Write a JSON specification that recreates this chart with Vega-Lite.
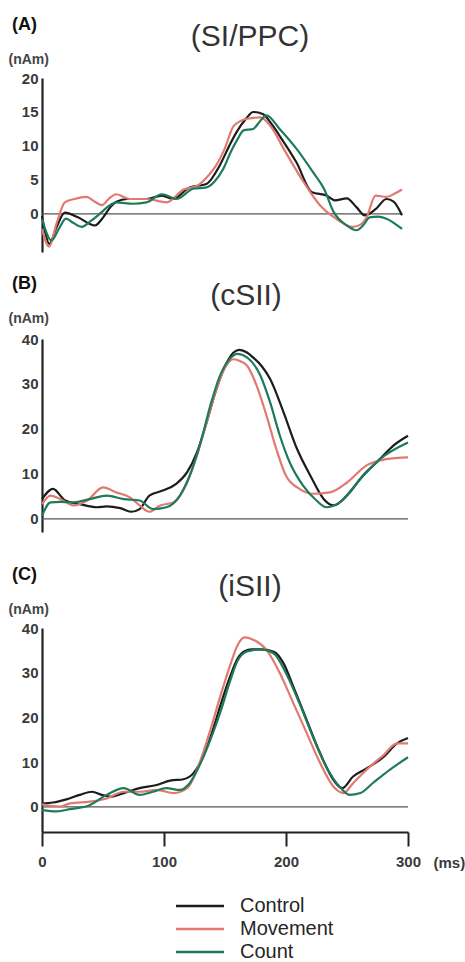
{
  "$schema": "https://vega.github.io/schema/vega-lite/v6.json",
  "background": "white",
  "padding": {"left": 8, "top": 16, "right": 0, "bottom": 0},
  "config": {
    "font": "Liberation Sans",
    "view": {"stroke": null},
    "axis": {"domainColor": "#222", "domainWidth": 2.2, "ticks": false, "grid": false, "labelFont": "Liberation Sans", "labelFontSize": 15, "labelFontWeight": "bold", "labelColor": "#3a3a3a", "labelPadding": 4, "titleFont": "Liberation Sans"},
    "title": {"font": "Liberation Sans"}
  },
  "datasets": {
    "A": [
      {"c":"Control","t":0,"v":-0.3},{"c":"Control","t":3,"v":-3.0},{"c":"Control","t":6,"v":-4.4},{"c":"Control","t":12,"v":-2.0},{"c":"Control","t":19,"v":0.2},{"c":"Control","t":30,"v":-0.5},{"c":"Control","t":44,"v":-1.7},{"c":"Control","t":51,"v":-0.5},{"c":"Control","t":57,"v":1.0},{"c":"Control","t":62,"v":1.8},{"c":"Control","t":71,"v":2.2},{"c":"Control","t":87,"v":2.2},{"c":"Control","t":100,"v":2.7},{"c":"Control","t":109,"v":2.2},{"c":"Control","t":123,"v":3.9},{"c":"Control","t":137,"v":4.4},{"c":"Control","t":148,"v":7.1},{"c":"Control","t":156,"v":10.0},{"c":"Control","t":162,"v":12.0},{"c":"Control","t":170,"v":14.0},{"c":"Control","t":176,"v":15.0},{"c":"Control","t":184,"v":14.7},{"c":"Control","t":191,"v":13.3},{"c":"Control","t":198,"v":11.5},{"c":"Control","t":212,"v":7.6},{"c":"Control","t":225,"v":3.2},{"c":"Control","t":237,"v":2.7},{"c":"Control","t":244,"v":2.0},{"c":"Control","t":254,"v":2.3},{"c":"Control","t":262,"v":1.0},{"c":"Control","t":269,"v":-0.2},{"c":"Control","t":278,"v":0.7},{"c":"Control","t":287,"v":2.2},{"c":"Control","t":293,"v":1.8},{"c":"Control","t":300,"v":-0.2},
      {"c":"Movement","t":0,"v":-2.2},{"c":"Movement","t":6,"v":-4.8},{"c":"Movement","t":12,"v":-1.5},{"c":"Movement","t":19,"v":1.7},{"c":"Movement","t":27,"v":2.2},{"c":"Movement","t":37,"v":2.5},{"c":"Movement","t":44,"v":1.8},{"c":"Movement","t":50,"v":1.3},{"c":"Movement","t":56,"v":2.3},{"c":"Movement","t":62,"v":2.9},{"c":"Movement","t":68,"v":2.5},{"c":"Movement","t":73,"v":2.2},{"c":"Movement","t":87,"v":2.2},{"c":"Movement","t":104,"v":1.7},{"c":"Movement","t":118,"v":3.6},{"c":"Movement","t":129,"v":4.1},{"c":"Movement","t":138,"v":5.5},{"c":"Movement","t":145,"v":7.1},{"c":"Movement","t":152,"v":9.5},{"c":"Movement","t":160,"v":13.0},{"c":"Movement","t":171,"v":14.0},{"c":"Movement","t":182,"v":14.2},{"c":"Movement","t":190,"v":13.0},{"c":"Movement","t":203,"v":9.1},{"c":"Movement","t":218,"v":4.7},{"c":"Movement","t":232,"v":1.2},{"c":"Movement","t":245,"v":-0.7},{"c":"Movement","t":259,"v":-1.9},{"c":"Movement","t":266,"v":-1.5},{"c":"Movement","t":270,"v":-0.7},{"c":"Movement","t":278,"v":2.7},{"c":"Movement","t":287,"v":2.5},{"c":"Movement","t":294,"v":3.0},{"c":"Movement","t":300,"v":3.6},
      {"c":"Count","t":0,"v":-0.7},{"c":"Count","t":8,"v":-3.9},{"c":"Count","t":14,"v":-2.2},{"c":"Count","t":20,"v":-0.7},{"c":"Count","t":26,"v":-1.3},{"c":"Count","t":33,"v":-1.9},{"c":"Count","t":41,"v":-1.0},{"c":"Count","t":48,"v":0.0},{"c":"Count","t":56,"v":1.2},{"c":"Count","t":62,"v":1.7},{"c":"Count","t":76,"v":1.5},{"c":"Count","t":87,"v":1.7},{"c":"Count","t":100,"v":2.9},{"c":"Count","t":112,"v":2.2},{"c":"Count","t":126,"v":3.7},{"c":"Count","t":137,"v":3.9},{"c":"Count","t":144,"v":4.8},{"c":"Count","t":151,"v":6.6},{"c":"Count","t":157,"v":9.0},{"c":"Count","t":163,"v":11.0},{"c":"Count","t":168,"v":12.3},{"c":"Count","t":176,"v":12.5},{"c":"Count","t":181,"v":13.5},{"c":"Count","t":187,"v":14.5},{"c":"Count","t":198,"v":12.5},{"c":"Count","t":212,"v":9.6},{"c":"Count","t":226,"v":6.1},{"c":"Count","t":235,"v":3.7},{"c":"Count","t":243,"v":0.3},{"c":"Count","t":254,"v":-1.7},{"c":"Count","t":262,"v":-2.4},{"c":"Count","t":268,"v":-1.6},{"c":"Count","t":273,"v":-0.5},{"c":"Count","t":280,"v":-0.4},{"c":"Count","t":287,"v":-0.7},{"c":"Count","t":300,"v":-2.2}
    ],
    "B": [
      {"c":"Control","t":0,"v":4.4},{"c":"Control","t":9,"v":6.7},{"c":"Control","t":19,"v":4.1},{"c":"Control","t":31,"v":3.3},{"c":"Control","t":45,"v":2.6},{"c":"Control","t":53,"v":2.8},{"c":"Control","t":64,"v":2.4},{"c":"Control","t":73,"v":1.6},{"c":"Control","t":80,"v":2.2},{"c":"Control","t":88,"v":5.2},{"c":"Control","t":99,"v":6.3},{"c":"Control","t":110,"v":7.8},{"c":"Control","t":119,"v":10.4},{"c":"Control","t":127,"v":14.8},{"c":"Control","t":135,"v":21.5},{"c":"Control","t":143,"v":28.9},{"c":"Control","t":151,"v":34.5},{"c":"Control","t":157,"v":37.0},{"c":"Control","t":162,"v":37.6},{"c":"Control","t":168,"v":37.0},{"c":"Control","t":173,"v":35.9},{"c":"Control","t":180,"v":34.0},{"c":"Control","t":187,"v":31.1},{"c":"Control","t":198,"v":23.7},{"c":"Control","t":209,"v":15.6},{"c":"Control","t":220,"v":9.6},{"c":"Control","t":231,"v":4.4},{"c":"Control","t":239,"v":3.0},{"c":"Control","t":250,"v":5.2},{"c":"Control","t":263,"v":9.6},{"c":"Control","t":277,"v":13.3},{"c":"Control","t":288,"v":16.3},{"c":"Control","t":300,"v":18.5},
      {"c":"Movement","t":0,"v":3.3},{"c":"Movement","t":7,"v":5.2},{"c":"Movement","t":15,"v":4.4},{"c":"Movement","t":26,"v":3.0},{"c":"Movement","t":37,"v":4.1},{"c":"Movement","t":50,"v":7.0},{"c":"Movement","t":61,"v":5.9},{"c":"Movement","t":72,"v":4.8},{"c":"Movement","t":80,"v":3.0},{"c":"Movement","t":88,"v":1.6},{"c":"Movement","t":97,"v":3.0},{"c":"Movement","t":108,"v":3.7},{"c":"Movement","t":119,"v":8.1},{"c":"Movement","t":127,"v":14.1},{"c":"Movement","t":135,"v":21.5},{"c":"Movement","t":143,"v":28.9},{"c":"Movement","t":151,"v":34.1},{"c":"Movement","t":157,"v":35.5},{"c":"Movement","t":163,"v":35.0},{"c":"Movement","t":168,"v":34.1},{"c":"Movement","t":176,"v":29.6},{"c":"Movement","t":184,"v":23.0},{"c":"Movement","t":192,"v":15.6},{"c":"Movement","t":200,"v":9.6},{"c":"Movement","t":211,"v":6.7},{"c":"Movement","t":222,"v":5.6},{"c":"Movement","t":236,"v":5.9},{"c":"Movement","t":250,"v":8.1},{"c":"Movement","t":266,"v":11.9},{"c":"Movement","t":282,"v":13.3},{"c":"Movement","t":300,"v":13.7},
      {"c":"Count","t":0,"v":0.7},{"c":"Count","t":7,"v":3.7},{"c":"Count","t":15,"v":3.8},{"c":"Count","t":26,"v":3.7},{"c":"Count","t":39,"v":4.4},{"c":"Count","t":53,"v":5.2},{"c":"Count","t":67,"v":4.4},{"c":"Count","t":80,"v":4.1},{"c":"Count","t":91,"v":2.2},{"c":"Count","t":102,"v":2.6},{"c":"Count","t":113,"v":5.2},{"c":"Count","t":121,"v":9.6},{"c":"Count","t":130,"v":17.0},{"c":"Count","t":138,"v":25.2},{"c":"Count","t":146,"v":31.9},{"c":"Count","t":154,"v":35.6},{"c":"Count","t":160,"v":36.7},{"c":"Count","t":168,"v":35.9},{"c":"Count","t":179,"v":31.9},{"c":"Count","t":187,"v":25.9},{"c":"Count","t":195,"v":18.5},{"c":"Count","t":203,"v":12.6},{"c":"Count","t":214,"v":7.4},{"c":"Count","t":225,"v":4.1},{"c":"Count","t":233,"v":2.6},{"c":"Count","t":244,"v":3.7},{"c":"Count","t":261,"v":8.9},{"c":"Count","t":277,"v":13.3},{"c":"Count","t":300,"v":17.0}
    ],
    "C": [
      {"c":"Control","t":0,"v":0.8},{"c":"Control","t":9,"v":1.0},{"c":"Control","t":20,"v":1.7},{"c":"Control","t":31,"v":2.7},{"c":"Control","t":41,"v":3.4},{"c":"Control","t":49,"v":2.7},{"c":"Control","t":56,"v":2.3},{"c":"Control","t":67,"v":3.1},{"c":"Control","t":80,"v":4.2},{"c":"Control","t":94,"v":4.9},{"c":"Control","t":105,"v":5.9},{"c":"Control","t":116,"v":6.2},{"c":"Control","t":124,"v":7.5},{"c":"Control","t":132,"v":11.2},{"c":"Control","t":140,"v":17.2},{"c":"Control","t":146,"v":22.5},{"c":"Control","t":154,"v":29.0},{"c":"Control","t":160,"v":33.0},{"c":"Control","t":166,"v":34.8},{"c":"Control","t":172,"v":35.2},{"c":"Control","t":179,"v":35.2},{"c":"Control","t":190,"v":34.7},{"c":"Control","t":198,"v":32.1},{"c":"Control","t":206,"v":26.9},{"c":"Control","t":217,"v":19.4},{"c":"Control","t":228,"v":12.0},{"c":"Control","t":239,"v":6.0},{"c":"Control","t":246,"v":4.2},{"c":"Control","t":255,"v":6.8},{"c":"Control","t":266,"v":8.6},{"c":"Control","t":280,"v":11.2},{"c":"Control","t":291,"v":14.2},{"c":"Control","t":300,"v":15.4},
      {"c":"Movement","t":0,"v":0.6},{"c":"Movement","t":15,"v":0.1},{"c":"Movement","t":23,"v":0.8},{"c":"Movement","t":39,"v":1.2},{"c":"Movement","t":53,"v":1.9},{"c":"Movement","t":67,"v":3.4},{"c":"Movement","t":80,"v":3.4},{"c":"Movement","t":94,"v":3.8},{"c":"Movement","t":108,"v":3.1},{"c":"Movement","t":119,"v":4.2},{"c":"Movement","t":130,"v":10.5},{"c":"Movement","t":138,"v":17.2},{"c":"Movement","t":146,"v":24.6},{"c":"Movement","t":154,"v":31.5},{"c":"Movement","t":160,"v":36.0},{"c":"Movement","t":166,"v":37.9},{"c":"Movement","t":173,"v":37.4},{"c":"Movement","t":184,"v":35.1},{"c":"Movement","t":195,"v":29.9},{"c":"Movement","t":206,"v":23.2},{"c":"Movement","t":217,"v":16.5},{"c":"Movement","t":228,"v":9.8},{"c":"Movement","t":239,"v":4.5},{"c":"Movement","t":247,"v":3.1},{"c":"Movement","t":255,"v":5.3},{"c":"Movement","t":266,"v":8.3},{"c":"Movement","t":280,"v":11.6},{"c":"Movement","t":291,"v":14.2},{"c":"Movement","t":300,"v":14.2},
      {"c":"Count","t":0,"v":-0.7},{"c":"Count","t":12,"v":-1.0},{"c":"Count","t":23,"v":-0.5},{"c":"Count","t":39,"v":0.4},{"c":"Count","t":53,"v":2.7},{"c":"Count","t":67,"v":4.2},{"c":"Count","t":80,"v":2.7},{"c":"Count","t":91,"v":3.4},{"c":"Count","t":102,"v":4.2},{"c":"Count","t":113,"v":3.8},{"c":"Count","t":121,"v":5.3},{"c":"Count","t":130,"v":9.8},{"c":"Count","t":138,"v":15.0},{"c":"Count","t":146,"v":21.0},{"c":"Count","t":154,"v":28.0},{"c":"Count","t":160,"v":32.5},{"c":"Count","t":166,"v":34.5},{"c":"Count","t":172,"v":35.0},{"c":"Count","t":179,"v":35.2},{"c":"Count","t":190,"v":34.3},{"c":"Count","t":200,"v":29.9},{"c":"Count","t":211,"v":23.2},{"c":"Count","t":222,"v":15.7},{"c":"Count","t":233,"v":9.0},{"c":"Count","t":244,"v":4.5},{"c":"Count","t":252,"v":2.7},{"c":"Count","t":261,"v":3.1},{"c":"Count","t":271,"v":5.3},{"c":"Count","t":285,"v":8.3},{"c":"Count","t":300,"v":11.1}
    ]
  },
  "spacing": 34,
  "vconcat": [
    {
      "spacing": 23,
      "vconcat": [
        {
          "title": {"text": "(A)", "anchor": "start", "frame": "bounds", "fontSize": 18, "fontWeight": "bold", "color": "#111", "offset": -12, "dx": 4},
          "vconcat": [
            {
              "width": 360, "height": 174,
              "title": {"text": "(SI/PPC)", "anchor": "middle", "frame": "group", "fontSize": 30, "fontWeight": "normal", "color": "#333", "dx": 28, "offset": 0},
              "layer": [
                {"data": {"values": [{}]}, "mark": {"type": "rule", "color": "#555", "strokeWidth": 1.3}, "encoding": {"y": {"datum": 0, "type": "quantitative"}}},
                {"data": {"name": "A"}, "mark": {"type": "line", "strokeWidth": 2.2, "interpolate": "monotone"},
                 "encoding": {
                   "x": {"field": "t", "type": "quantitative", "scale": {"domain": [0, 300], "nice": false}, "axis": null},
                   "y": {"field": "v", "type": "quantitative", "scale": {"domain": [-5.6, 20], "nice": false, "zero": false},
                         "axis": {"values": [0, 5, 10, 15, 20], "title": "(nAm)", "titleAngle": 0, "titleAlign": "left", "titleBaseline": "top", "titleX": -34, "titleY": -26, "titleFontSize": 14, "titleFontWeight": "bold", "titleColor": "#444"}},
                   "color": {"field": "c", "type": "nominal", "scale": {"domain": ["Control", "Movement", "Count"], "range": ["#1c1c1c", "#e07a70", "#1e7a5a"]},
                             "legend": {"orient": "none", "legendX": 148, "legendY": 818, "title": null, "symbolType": "M-3,0H3", "symbolSize": 256, "symbolStrokeWidth": 2.5, "labelFontSize": 20, "labelFont": "Liberation Sans", "labelColor": "#262626", "labelOffset": 30, "rowPadding": 3}}
                 }}
              ]
            }
          ]
        },
        {
          "title": {"text": "(B)", "anchor": "start", "frame": "bounds", "fontSize": 18, "fontWeight": "bold", "color": "#111", "offset": -12, "dx": 4},
          "vconcat": [
            {
              "width": 366, "height": 193,
              "title": {"text": "(cSII)", "anchor": "middle", "frame": "group", "fontSize": 30, "fontWeight": "normal", "color": "#333", "dx": 21, "offset": 0},
              "layer": [
                {"data": {"values": [{}]}, "mark": {"type": "rule", "color": "#555", "strokeWidth": 1.3}, "encoding": {"y": {"datum": 0, "type": "quantitative"}}},
                {"data": {"name": "B"}, "mark": {"type": "line", "strokeWidth": 2.2, "interpolate": "monotone"},
                 "encoding": {
                   "x": {"field": "t", "type": "quantitative", "scale": {"domain": [0, 300], "nice": false}, "axis": null},
                   "y": {"field": "v", "type": "quantitative", "scale": {"domain": [-2.9, 40], "nice": false, "zero": false},
                         "axis": {"values": [0, 10, 20, 30, 40], "title": "(nAm)", "titleAngle": 0, "titleAlign": "left", "titleBaseline": "top", "titleX": -34, "titleY": -28, "titleFontSize": 14, "titleFontWeight": "bold", "titleColor": "#444"}},
                   "color": {"field": "c", "type": "nominal", "scale": {"domain": ["Control", "Movement", "Count"], "range": ["#1c1c1c", "#e07a70", "#1e7a5a"]},
                             "legend": {"orient": "none", "legendX": 148, "legendY": 818, "title": null, "symbolType": "M-3,0H3", "symbolSize": 256, "symbolStrokeWidth": 2.5, "labelFontSize": 20, "labelFont": "Liberation Sans", "labelColor": "#262626", "labelOffset": 30, "rowPadding": 3}}
                 }}
              ]
            }
          ]
        }
      ]
    },
    {
      "title": {"text": "(C)", "anchor": "start", "frame": "bounds", "fontSize": 18, "fontWeight": "bold", "color": "#111", "offset": -12, "dx": 4},
      "vconcat": [
        {
          "width": 366, "height": 204,
          "title": {"text": "(iSII)", "anchor": "middle", "frame": "group", "fontSize": 30, "fontWeight": "normal", "color": "#333", "dx": 25, "offset": 0},
          "layer": [
            {"data": {"values": [{}]}, "mark": {"type": "rule", "color": "#555", "strokeWidth": 1.3}, "encoding": {"y": {"datum": 0, "type": "quantitative"}}},
            {"data": {"name": "C"}, "mark": {"type": "line", "strokeWidth": 2.2, "interpolate": "monotone"},
             "encoding": {
               "x": {"field": "t", "type": "quantitative", "scale": {"domain": [0, 300], "nice": false},
                     "axis": {"values": [0, 100, 200, 300], "ticks": true, "tickSize": 14, "tickWidth": 2, "tickColor": "#222", "labelPadding": 8, "labelFlush": false, "title": "(ms)", "titleX": 391, "titleY": 23, "titleAlign": "left", "titleBaseline": "top", "titleFontSize": 15, "titleFontWeight": "bold", "titleColor": "#3a3a3a"}},
               "y": {"field": "v", "type": "quantitative", "scale": {"domain": [-5.6, 40], "nice": false, "zero": false},
                     "axis": {"values": [0, 10, 20, 30, 40], "title": "(nAm)", "titleAngle": 0, "titleAlign": "left", "titleBaseline": "top", "titleX": -34, "titleY": -26, "titleFontSize": 14, "titleFontWeight": "bold", "titleColor": "#444"}},
               "color": {"field": "c", "type": "nominal", "scale": {"domain": ["Control", "Movement", "Count"], "range": ["#1c1c1c", "#e07a70", "#1e7a5a"]},
                         "legend": {"orient": "none", "legendX": 148, "legendY": 818, "title": null, "symbolType": "M-3,0H3", "symbolSize": 256, "symbolStrokeWidth": 2.5, "labelFontSize": 20, "labelFont": "Liberation Sans", "labelColor": "#262626", "labelOffset": 30, "rowPadding": 3}}
             }}
          ]
        }
      ]
    }
  ]
}
